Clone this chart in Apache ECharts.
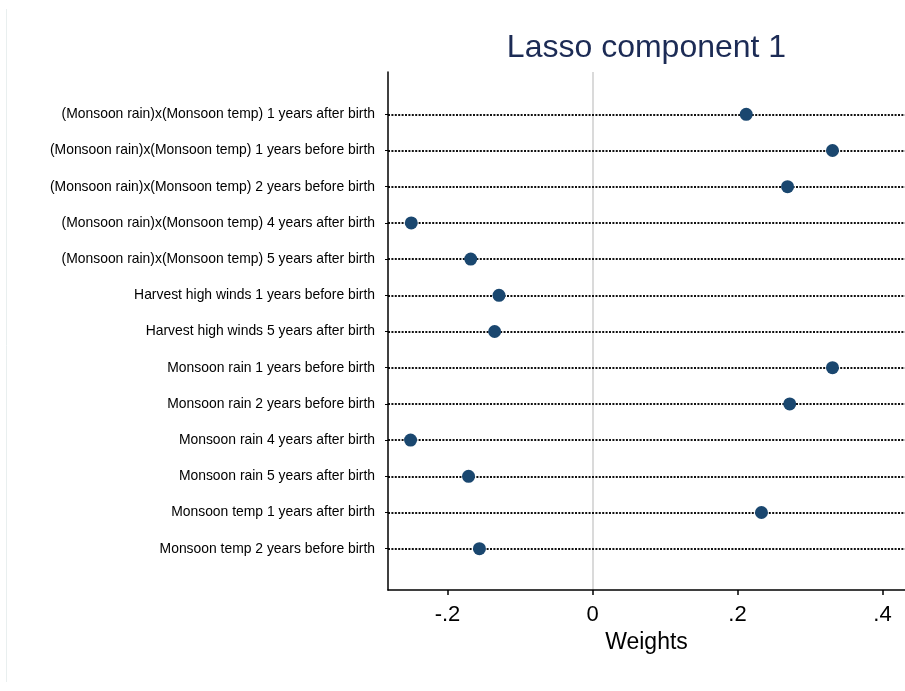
<!DOCTYPE html>
<html>
<head>
<meta charset="utf-8">
<script src="https://cdn.jsdelivr.net/npm/echarts@6/dist/echarts.min.js"></script>
<style>
html,body{margin:0;padding:0;background:#fff;}
#chart{width:905px;height:691px;}
</style>
</head>
<body>
<div id="chart"></div>
<script>
const categories = [
  "(Monsoon rain)x(Monsoon temp) 1 years after birth",
  "(Monsoon rain)x(Monsoon temp) 1 years before birth",
  "(Monsoon rain)x(Monsoon temp) 2 years before birth",
  "(Monsoon rain)x(Monsoon temp) 4 years after birth",
  "(Monsoon rain)x(Monsoon temp) 5 years after birth",
  "Harvest high winds 1 years before birth",
  "Harvest high winds 5 years after birth",
  "Monsoon rain 1 years before birth",
  "Monsoon rain 2 years before birth",
  "Monsoon rain 4 years after birth",
  "Monsoon rain 5 years after birth",
  "Monsoon temp 1 years after birth",
  "Monsoon temp 2 years before birth"
];
const weights = [0.212, 0.331, 0.269, -0.250, -0.168, -0.129, -0.135, 0.331, 0.272, -0.251, -0.171, 0.233, -0.156];
const xTicks = [-0.2, 0, 0.2, 0.4];
const titleText = "Lasso component 1";
const xName = "Weights";

const xMin = -0.2821, xMax = 0.4310;
function fmt(v) {
  if (Math.abs(v) < 1e-9) return '0';
  const s = String(Math.abs(Math.round(v * 100) / 100)).replace(/^0/, '');
  return (v < 0 ? '-' : '') + s;
}

const chart = echarts.init(document.getElementById('chart'), null, {renderer: 'canvas'});
const FONT = '"Liberation Sans", Arial, sans-serif';
const option = {
  backgroundColor: '#ffffff',
  animation: false,
  graphic: [
    {type: 'line', shape: {x1: 6.5, y1: 9, x2: 6.5, y2: 682}, style: {stroke: '#e9efef', lineWidth: 1}},
    {type: 'text', x: 646.5, y: 32, style: {text: titleText, align: 'center', verticalAlign: 'top', textAlign: 'center', textVerticalAlign: 'top', font: '32px ' + FONT, fill: '#1c2b55'}}
  ],
  grid: [
    {left: 388, right: 0, top: 72, bottom: 101, containLabel: false},
    {left: 388, right: 0, top: 114.3, bottom: 142.3, containLabel: false}
  ],
  xAxis: [
    {
      type: 'value', gridIndex: 0, min: xMin, max: xMax,
      axisLine: {show: true, onZero: false, lineStyle: {color: '#000', width: 1.5}},
      axisTick: {show: true, length: 5, customValues: xTicks, lineStyle: {color: '#000', width: 1.5}},
      axisLabel: {show: true, customValues: xTicks, formatter: fmt, margin: 14, fontSize: 22, color: '#000', fontFamily: FONT},
      splitLine: {show: false},
      name: xName, nameLocation: 'middle', nameGap: 38,
      nameTextStyle: {fontSize: 23, color: '#000', fontFamily: FONT}
    },
    {
      type: 'value', gridIndex: 1, min: xMin, max: xMax, show: false
    }
  ],
  yAxis: [
    {
      type: 'value', gridIndex: 0, min: 0, max: 1,
      axisLine: {show: true, onZero: false, lineStyle: {color: '#000', width: 1.5}},
      axisTick: {show: false}, axisLabel: {show: false}, splitLine: {show: false}
    },
    {
      type: 'category', gridIndex: 1, data: categories, inverse: true, boundaryGap: false,
      axisLine: {show: false, onZero: false},
      axisTick: {show: true, length: 3, lineStyle: {color: '#000', width: 1}},
      axisLabel: {show: true, margin: 13, fontSize: 13.9, color: '#000', fontFamily: FONT, interval: 0},
      splitLine: {show: true, lineStyle: {color: '#111', width: 2, type: [2, 1.4]}}
    }
  ],
  series: [
    {
      type: 'scatter', xAxisIndex: 0, yAxisIndex: 0, data: [], silent: true, z: -1,
      markLine: {
        silent: true, symbol: ['none', 'none'], label: {show: false}, z: -1,
        lineStyle: {color: '#dadada', width: 2, type: 'solid', opacity: 1},
        emphasis: {disabled: true},
        data: [{xAxis: 0}]
      }
    },
    {
      type: 'scatter', xAxisIndex: 1, yAxisIndex: 1,
      symbol: 'circle', symbolSize: 13,
      itemStyle: {color: '#1a476f', opacity: 1},
      data: weights.map((w, i) => [w, categories[i]]),
      z: 5
    }
  ]
};
chart.setOption(option);
</script>
</body>
</html>
